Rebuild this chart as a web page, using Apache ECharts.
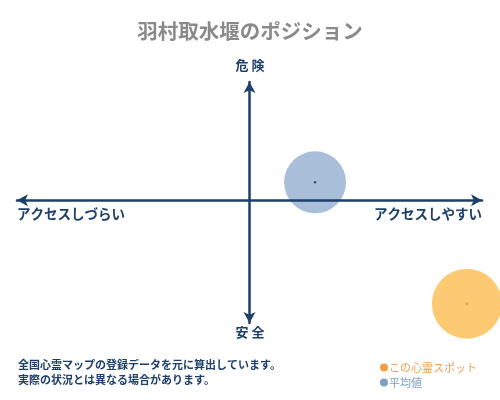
<!DOCTYPE html>
<html>
<head>
<meta charset="utf-8">
<script src="https://cdn.jsdelivr.net/npm/echarts@6/dist/echarts.min.js"></script>
<style>
  html, body { margin: 0; padding: 0; background: #fff; }
  #chart { width: 500px; height: 400px; }
</style>
</head>
<body>
<div id="chart"></div>
<script>
// ポジションの値 (横: アクセス, 縦: 危険度)
var spotX = [93.5];
var spotY = [-44.7];
var avgX = [28.2];
var avgY = [7.7];
var seriesNames = ['この心霊スポット', '平均値'];
var axisLabels = ['危 険', '安 全', 'アクセスしづらい', 'アクセスしやすい'];
var notes = ['全国心霊マップの登録データを元に算出しています。', '実際の状況とは異なる場合があります。'];

var font = '"Noto Sans CJK JP", sans-serif';
var navy = '#1d3f6a';

var myChart = echarts.init(document.getElementById('chart'));
myChart.setOption({
  animation: false,
  title: {
    text: '羽村取水堰のポジション',
    left: 'center',
    top: 16,
    textStyle: { color: '#8a8a8a', fontSize: 20.5, fontWeight: 'bold', fontFamily: font }
  },
  grid: { left: 17, right: 18, top: 82, bottom: 77 },
  xAxis: {
    type: 'value',
    min: -100,
    max: 100,
    z: 5,
    axisLine: {
      onZero: true,
      symbol: ['arrow', 'arrow'],
      symbolSize: [9, 11],
      lineStyle: { color: navy, width: 2.5 }
    },
    axisTick: { show: false },
    axisLabel: { show: false },
    splitLine: { show: false }
  },
  yAxis: {
    type: 'value',
    min: -53,
    max: 51,
    z: 5,
    axisLine: {
      onZero: true,
      symbol: ['arrow', 'arrow'],
      symbolSize: [9, 11],
      lineStyle: { color: navy, width: 2.5 }
    },
    axisTick: { show: false },
    axisLabel: { show: false },
    splitLine: { show: false }
  },
  legend: {
    orient: 'vertical',
    left: 375,
    top: 357,
    itemWidth: 8,
    itemHeight: 8,
    itemGap: 4,
    icon: 'circle',
    textStyle: { fontSize: 11, fontFamily: font, padding: [0, 0, 0, -4] },
    data: [
      { name: seriesNames[0], itemStyle: { color: '#f0a040' }, textStyle: { color: '#f0a050' } },
      { name: seriesNames[1], itemStyle: { color: '#7fa0c4' }, textStyle: { color: '#7f9fc0' } }
    ]
  },
  graphic: [
    { type: 'text', left: 'center', top: 59, style: { text: axisLabels[0], fill: navy, font: 'bold 13px ' + font } },
    { type: 'text', left: 'center', top: 326, style: { text: axisLabels[1], fill: navy, font: 'bold 13px ' + font } },
    { type: 'text', left: 17, top: 207, style: { text: axisLabels[2], fill: navy, font: 'bold 13.5px ' + font } },
    { type: 'text', right: 18, top: 207, style: { text: axisLabels[3], fill: navy, font: 'bold 13.5px ' + font } },
    { type: 'text', left: 18, top: 359, style: { text: notes[0], fill: navy, font: 'bold 11px ' + font } },
    { type: 'text', left: 18, top: 374, style: { text: notes[1], fill: navy, font: 'bold 11px ' + font } }
  ],
  series: [
    {
      name: seriesNames[0],
      type: 'scatter',
      symbolSize: 70,
      z: 2,
      itemStyle: { color: '#fdc973', opacity: 1 },
      data: spotX.map(function (x, i) { return [x, spotY[i]]; })
    },
    {
      name: seriesNames[1],
      type: 'scatter',
      symbolSize: 62,
      z: 2,
      itemStyle: { color: '#a9bfd9', opacity: 1 },
      data: avgX.map(function (x, i) { return [x, avgY[i]]; })
    },
    {
      name: 'spotDot',
      type: 'scatter',
      symbolSize: 3,
      z: 6,
      itemStyle: { color: '#f29d1f' },
      data: spotX.map(function (x, i) { return [x, spotY[i]]; })
    },
    {
      name: 'avgDot',
      type: 'scatter',
      symbolSize: 2.5,
      z: 6,
      itemStyle: { color: '#1a3050' },
      data: avgX.map(function (x, i) { return [x, avgY[i]]; })
    }
  ]
});
</script>
</body>
</html>
